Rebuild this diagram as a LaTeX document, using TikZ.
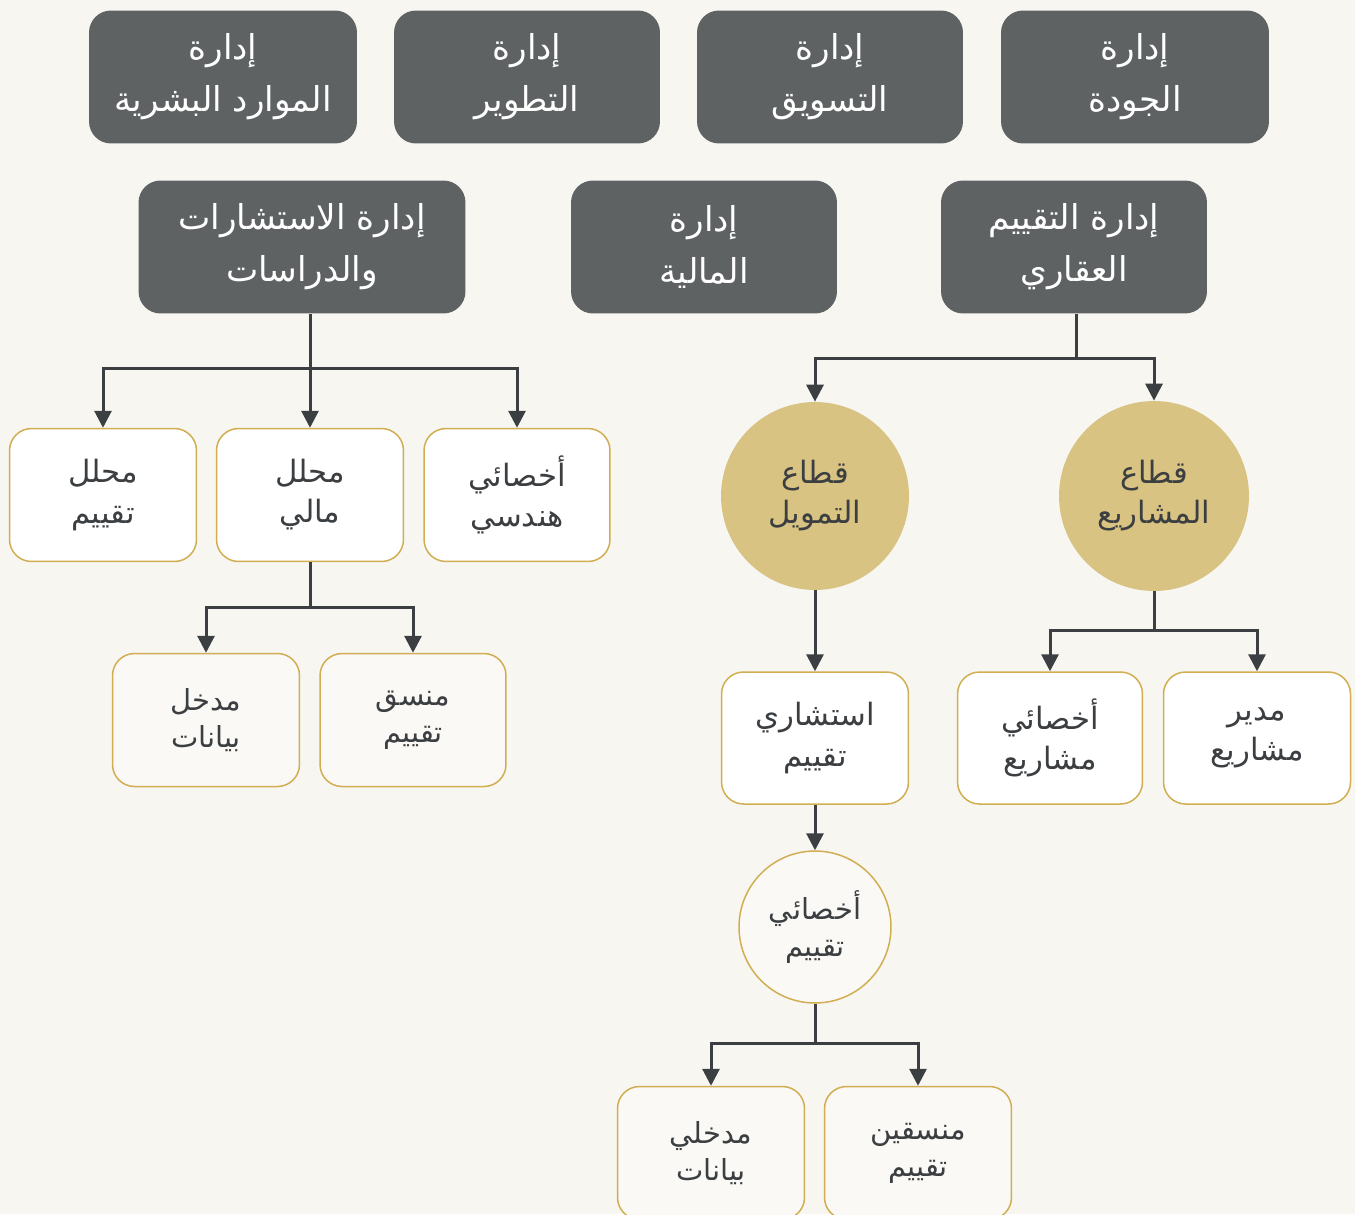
\documentclass[tikz,border=0pt]{standalone}
\usepackage{fontspec}
\newfontfamily\arabicfont[Script=Arabic]{DejaVu Sans}
\TeXXeTstate=1
\usetikzlibrary{arrows.meta}
\definecolor{bgc}{HTML}{F7F6F1}
\definecolor{darkc}{HTML}{5F6263}
\definecolor{goldfill}{HTML}{D9C382}
\definecolor{goldline}{HTML}{D2AE52}
\definecolor{txtc}{HTML}{3C3F42}
\definecolor{paler}{HTML}{FAF9F6}
\newcommand{\rl}[1]{\beginR #1\endR}
\begin{document}
\begin{tikzpicture}[x=0.02cm,y=-0.02cm,
  dbox/.style={fill=darkc, rounded corners=0.44cm, minimum width=#1, minimum height=2.66cm,
    inner sep=0pt, text=white, align=center, font=\arabicfont\fontsize{19.5}{29.6}\selectfont},
  wbox/.style={draw=goldline, line width=0.03cm, fill=white, rounded corners=0.44cm,
    minimum width=3.74cm, minimum height=2.66cm, inner sep=0pt, text=txtc, align=center,
    font=\arabicfont\fontsize{17.5}{22.8}\selectfont},
  pbox/.style={wbox, fill=paler, font=\arabicfont\fontsize{16.5}{21}\selectfont},
  gcirc/.style={circle, fill=goldfill, minimum size=3.76cm, inner sep=0pt, text=txtc,
    align=center, font=\arabicfont\fontsize{17.5}{22.8}\selectfont},
  wcirc/.style={circle, draw=goldline, line width=0.03cm, fill=paler, minimum size=3.04cm,
    inner sep=0pt, text=txtc, align=center, font=\arabicfont\fontsize{16.5}{20.5}\selectfont},
  link/.style={draw=txtc, line width=0.06cm},
  arr/.style={link, -{Triangle[width=0.34cm,length=0.34cm]}}]
\clip (0,0) rectangle (1355,1214);
\fill[bgc] (0,0) rectangle (1355,1214);

% top row
\node[dbox=5.36cm] (hr)   at (223,77)  {\rl{إدارة}\\\rl{الموارد البشرية}};
\node[dbox=5.32cm] (dev)  at (527,77)  {\rl{إدارة}\\\rl{التطوير}};
\node[dbox=5.32cm] (mkt)  at (830,77)  {\rl{إدارة}\\\rl{التسويق}};
\node[dbox=5.36cm] (qual) at (1135,77) {\rl{إدارة}\\\rl{الجودة}};

% second row
\node[dbox=6.54cm] (cons) at (302,247)  {\rl{إدارة الاستشارات}\\\rl{والدراسات}};
\node[dbox=5.32cm] (finm) at (704,247)  {\rl{إدارة}\\\rl{المالية}};
\node[dbox=5.32cm] (val)  at (1074,247) {\rl{إدارة التقييم}\\\rl{العقاري}};

% left branch
\node[wbox] (an1) at (103,495) {\rl{محلل}\\\rl{تقييم}};
\node[wbox] (an2) at (310,495) {\rl{محلل}\\\rl{مالي}};
\node[wbox, minimum width=3.72cm] (eng) at (517,495) {\rl{أخصائي}\\\rl{هندسي}};
\node[pbox] (de1) at (206,720) {\rl{مدخل}\\\rl{بيانات}};
\node[pbox, minimum width=3.72cm] (co1) at (413,720) {\rl{منسق}\\\rl{تقييم}};

% right branch
\node[gcirc] (fin)  at (815,496)  {\rl{قطاع}\\\rl{التمويل}};
\node[gcirc, minimum size=3.8cm] (proj) at (1154,496) {\rl{قطاع}\\\rl{المشاريع}};
\node[wbox, minimum height=2.64cm] (vc)   at (815,738)  {\rl{استشاري}\\\rl{تقييم}};
\node[wbox, minimum width=3.7cm, minimum height=2.64cm] (ps) at (1050,738) {\rl{أخصائي}\\\rl{مشاريع}};
\node[wbox, minimum height=2.64cm] (pm)   at (1257,738) {\rl{مدير}\\\rl{مشاريع}};
\node[wcirc] (vs) at (815,927) {\rl{أخصائي}\\\rl{تقييم}};
\node[pbox] (de2) at (711,1153) {\rl{مدخلي}\\\rl{بيانات}};
\node[pbox] (co2) at (918,1153) {\rl{منسقين}\\\rl{تقييم}};

% connectors left
\coordinate (jL) at (an2.north |- 0,368);
\draw[link] (an2.north |- cons.south) -- (jL);
\draw[arr] (jL) -- (an2.north);
\draw[arr] (jL) -| (an1.north);
\draw[arr] (jL) -| (eng.north);
\coordinate (jL2) at (an2.south |- 0,607);
\draw[link] (an2.south) -- (jL2);
\draw[arr] (jL2) -| (de1.north);
\draw[arr] (jL2) -| (co1.north);

% connectors right
\coordinate (jR) at (1076,358);
\draw[link] (jR |- val.south) -- (jR);
\draw[arr] (jR) -| (fin.north);
\draw[arr] (jR) -| (proj.north);
\draw[arr] (fin.south) -- (vc.north);
\coordinate (jR2) at (proj.south |- 0,630);
\draw[link] (proj.south) -- (jR2);
\draw[arr] (jR2) -| (ps.north);
\draw[arr] (jR2) -| (pm.north);
\draw[arr] (vc.south) -- (vs.north);
\coordinate (jR3) at (vs.south |- 0,1043);
\draw[link] (vs.south) -- (jR3);
\draw[arr] (jR3) -| (de2.north);
\draw[arr] (jR3) -| (co2.north);
\end{tikzpicture}
\end{document}
